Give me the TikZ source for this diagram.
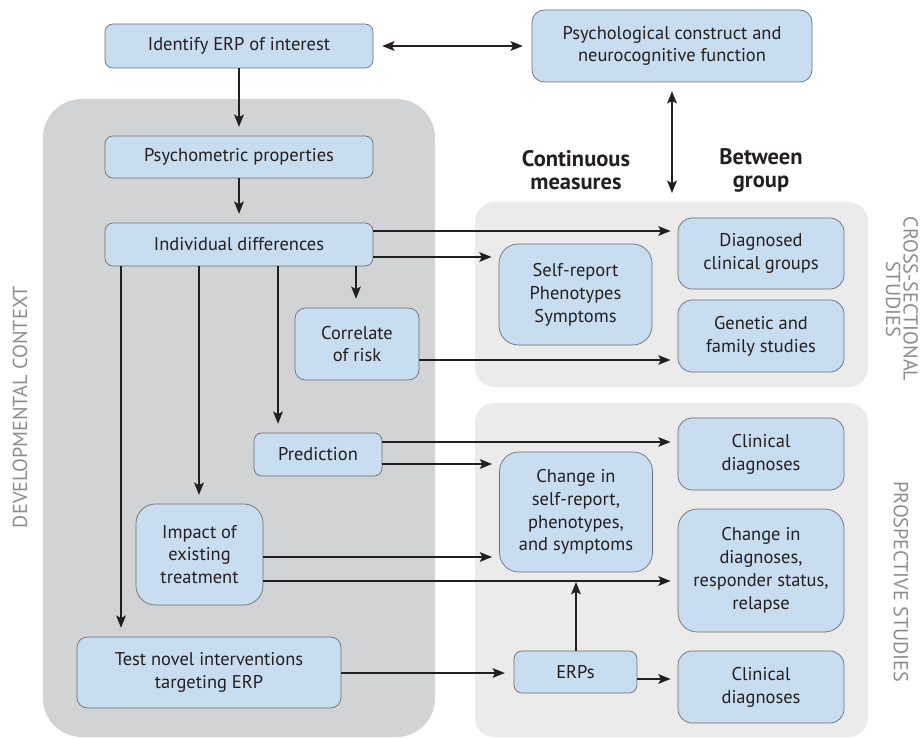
\documentclass[tikz,border=0pt]{standalone}
\usepackage{fontspec}
\setmainfont{PT Sans}
\usetikzlibrary{arrows.meta}
\definecolor{boxblue}{HTML}{C9DDF1}
\definecolor{boxline}{HTML}{6D6E71}
\definecolor{darkpanel}{HTML}{D1D3D4}
\definecolor{lightpanel}{HTML}{EBEBEC}
\definecolor{sidegray}{HTML}{8A8C8E}
\definecolor{ink}{HTML}{231F20}
\begin{document}
\begin{tikzpicture}[x=0.2mm,y=-0.2mm,
  box/.style={draw=boxline, fill=boxblue, text=ink, rounded corners=4.5pt, align=center, inner sep=2pt, font=\fontsize{10.5}{13}\selectfont},
  sz/.style 2 args={minimum width=#1*0.2mm, minimum height=#2*0.2mm},
  arr/.style={draw=ink, line width=1.1pt, -{Stealth[length=7pt,width=5.5pt,inset=1.5pt]}, shorten >=4pt},
  side/.style={text=sidegray, font=\fontsize{11.5}{10}\selectfont, align=center, inner sep=0pt},
  head/.style={text=ink, font=\fontsize{12.8}{13}\selectfont\bfseries, align=center}]
\useasboundingbox (0,0) rectangle (921,739);
\fill[darkpanel, rounded corners=22pt] (43,99) rectangle (435,737);
\fill[lightpanel, rounded corners=11pt] (475,202) rectangle (868,387);
\fill[lightpanel, rounded corners=11pt] (475,403) rectangle (868,737);
\node[box, sz={268}{44}] (ident) at (239,46) {Identify ERP of interest};
\node[box, sz={268}{42}] (psych) at (239,157) {Psychometric properties};
\node[box, sz={268}{43}] (indiv) at (239,244.5) {Individual differences};
\node[box, sz={124}{72}, rounded corners=6pt] (corr) at (357,344) {Correlate\\of risk};
\node[box, sz={128}{43}] (pred) at (318,454.5) {Prediction};
\node[box, sz={127}{101}, rounded corners=11pt] (impact) at (199.5,554.5) {Impact of\\existing\\treatment};
\node[box, sz={264}{71}, rounded corners=6pt] (novel) at (209,672.5) {Test novel interventions\\targeting ERP};
\node[box, sz={280}{72}, rounded corners=7pt] (construct) at (672,46) {Psychological construct and\\neurocognitive function};
\node[box, sz={166}{71}, rounded corners=8pt] (diag) at (761,253.5) {Diagnosed\\clinical groups};
\node[box, sz={166}{72}, rounded corners=8pt] (genetic) at (761,336) {Genetic and\\family studies};
\node[box, sz={153}{101}, rounded corners=11pt] (selfrep) at (575.5,294.5) {Self-report\\Phenotypes\\Symptoms};
\node[box, sz={166}{72}, rounded corners=8pt] (clin1) at (761,454) {Clinical\\diagnoses};
\node[box, sz={153}{120}, rounded corners=11pt] (chself) at (576,512) {Change in\\self-report,\\phenotypes,\\and symptoms};
\node[box, sz={166}{123}, rounded corners=11pt] (chdiag) at (761,570.5) {Change in\\diagnoses,\\responder status,\\relapse};
\node[box, sz={123}{42}] (erps) at (575.5,672) {ERPs};
\node[box, sz={166}{72}, rounded corners=8pt] (clin2) at (761,687) {Clinical\\diagnoses};
\node[head] (contlab) at (576,170.5) {Continuous\\measures};
\node[head] (betwlab) at (761,170.5) {Between\\group};
\node[side, rotate=90] (devlab) at (20,407) {DEVELOPMENTAL CONTEXT};
\node[side, rotate=-90] (crosslab) at (902,299) {CROSS-SECTIONAL\\STUDIES};
\node[side, rotate=-90] (prosplab) at (901,582) {PROSPECTIVE STUDIES};
\coordinate (vtip) at (672,193);
\draw[arr, {Stealth[length=7pt,width=5.5pt,inset=1.5pt]}-{Stealth[length=7pt,width=5.5pt,inset=1.5pt]}, shorten <=5pt, shorten >=5pt] (ident) -- (construct);
\draw[arr, {Stealth[length=7pt,width=5.5pt,inset=1.5pt]}-{Stealth[length=7pt,width=5.5pt,inset=1.5pt]}, shorten <=5pt, shorten >=0pt] (construct) -- (vtip);
\draw[arr, shorten >=5pt] (ident) -- (psych);
\draw[arr, shorten >=5pt] (psych) -- (indiv);
\draw[arr, shorten >=5pt] (indiv.south -| 356,0) -- (corr.north -| 356,0);
\draw[arr, shorten >=5pt] (indiv.south -| 278,0) -- (pred.north -| 278,0);
\draw[arr, shorten >=5pt] (indiv.south -| 199,0) -- (impact.north -| 199,0);
\draw[arr, shorten >=5pt] (indiv.south -| 121,0) -- (novel.north -| 121,0);
\draw[arr] (indiv.east |- 0,231) -- (diag.west |- 0,231);
\draw[arr] (indiv.east |- 0,257) -- (selfrep.west |- 0,257);
\draw[arr] (corr.east |- 0,360) -- (genetic.west |- 0,360);
\draw[arr] (pred.east |- 0,442) -- (clin1.west |- 0,442);
\draw[arr] (pred.east |- 0,464) -- (chself.west |- 0,464);
\draw[arr] (impact.east |- 0,557) -- (chself.west |- 0,557);
\draw[arr] (impact.east |- 0,581) -- (chdiag.west |- 0,581);
\draw[arr, shorten >=5pt] (novel.east |- 0,673) -- (erps.west |- 0,673);
\draw[arr] (erps.east |- 0,679) -- (clin2.west |- 0,679);
\draw[arr, shorten >=5.5pt] (erps.north -| 576,0) -- (chself.south -| 576,0);
\end{tikzpicture}
\end{document}
